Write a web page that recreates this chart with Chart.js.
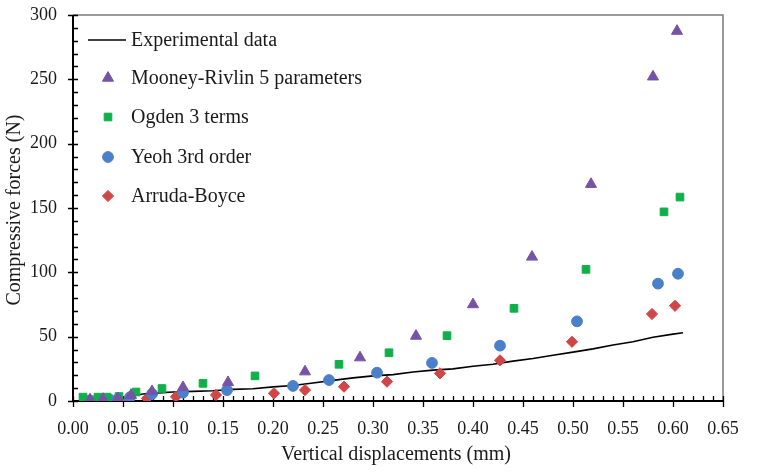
<!DOCTYPE html>
<html>
<head>
<meta charset="utf-8">
<script src="https://cdn.jsdelivr.net/npm/chart.js@4/dist/chart.umd.min.js"></script>
<style>
html,body{margin:0;padding:0;background:#fff;}
#wrap{width:757px;height:476px;position:relative;}
</style>
</head>
<body>
<div id="wrap"><canvas id="c" width="757" height="476"></canvas></div>
<script>
// ---- Data ----
const expX = [0.010,0.020,0.030,0.040,0.050,0.060,0.070,0.080,0.090,0.100,0.120,0.140,0.160,0.180,0.200,0.220,0.240,0.260,0.280,0.300,0.320,0.340,0.360,0.380,0.400,0.420,0.440,0.460,0.480,0.500,0.520,0.540,0.560,0.580,0.600,0.610];
const expY = [0,0.5,1,1.5,2.5,4,5.5,6,6.5,7,7.5,8,9,9.5,11,12,14,16,18,19.5,20.5,22.5,24,25,27,28.5,31,33,35.5,38,40.5,43.5,46,49.5,52,53];

const mooneyX = [0.017,0.030,0.045,0.058,0.079,0.110,0.155,0.232,0.287,0.343,0.400,0.459,0.518,0.580,0.604];
const mooneyY = [1,1.5,2,4.5,7.5,10.6,14.5,22.8,33.7,50.5,75,112,168.5,252,287.5];

const ogdenX = [0.010,0.025,0.034,0.046,0.063,0.089,0.130,0.182,0.266,0.316,0.374,0.441,0.513,0.591,0.607];
const ogdenY = [3,3,3,3.5,7,9.7,13.7,19.5,28.5,37.5,50.8,72,102.3,147,158.5];

const yeohX = [0.017,0.027,0.037,0.044,0.057,0.079,0.110,0.154,0.220,0.256,0.304,0.359,0.427,0.504,0.585,0.605];
const yeohY = [0.5,0.7,1,1,3,5.5,6.5,8.5,11.7,16.3,22,29.6,43,61.9,91.2,98.9];

const arrudaX = [0.022,0.027,0.032,0.044,0.055,0.074,0.103,0.143,0.201,0.232,0.271,0.314,0.367,0.427,0.499,0.579,0.602];
const arrudaY = [0.5,0.7,1,1.2,0.5,2,3.3,4.7,6,8.5,11.1,15,21.5,31.6,46,67.6,74];

const seriesLabels = ["Experimental data","Mooney-Rivlin 5 parameters","Ogden 3 terms","Yeoh 3rd order","Arruda-Boyce"];
const xAxisTitle = "Vertical displacements (mm)";
const yAxisTitle = "Compressive forces (N)";
const xMin = 0, xMax = 0.65, xStep = 0.05, xMinorStep = 0.01;
const yMin = 0, yMax = 300, yStep = 50, yMinorStep = 10;

// ---- build ----
const pts = (xs, ys) => xs.map((x, i) => ({x: x, y: ys[i]}));
const FONT = "'Liberation Serif','DejaVu Serif',serif";
const TXT = '#1a1a1a';

const datasets = [
  {label: seriesLabels[0], type:'line', data: pts(expX, expY), borderColor:'#000', borderWidth:1.6, pointRadius:0, showLine:true, fill:false, tension:0, order:5},
  {label: seriesLabels[1], data: pts(mooneyX, mooneyY), pointStyle:'triangle', pointRadius:6.4, backgroundColor:'#7653a6', borderColor:'#7653a6', borderWidth:1},
  {label: seriesLabels[2], data: pts(ogdenX, ogdenY), pointStyle:'rect', pointRadius:5.4, backgroundColor:'#0fb04a', borderColor:'#0fb04a', borderWidth:1},
  {label: seriesLabels[3], data: pts(yeohX, yeohY), pointStyle:'circle', pointRadius:5.4, backgroundColor:'#4a7fc9', borderColor:'#4a7fc9', borderWidth:1},
  {label: seriesLabels[4], data: pts(arrudaX, arrudaY), pointStyle:'rectRot', pointRadius:5.6, backgroundColor:'#d04545', borderColor:'#d04545', borderWidth:1}
];

const decor = {
  id:'decor',
  beforeDatasetsDraw(chart){
    const {ctx, chartArea:a, scales:{x, y}} = chart;
    ctx.save();
    // frame
    ctx.lineWidth = 1.5;
    ctx.strokeStyle = '#7a7a7a';
    ctx.beginPath();
    ctx.moveTo(a.left, a.top); ctx.lineTo(a.right, a.top); ctx.lineTo(a.right, a.bottom);
    ctx.stroke();
    ctx.strokeStyle = '#000';
    ctx.lineWidth = 2;
    ctx.beginPath();
    ctx.moveTo(a.left, a.top); ctx.lineTo(a.left, a.bottom); ctx.lineTo(a.right, a.bottom);
    ctx.stroke();
    // ticks
    ctx.lineWidth = 1.3;
    ctx.beginPath();
    const ny = Math.round((yMax - yMin) / yMinorStep);
    for (let i = 0; i <= ny; i++) {
      const v = yMin + i * yMinorStep;
      const p = Math.round(y.getPixelForValue(v)) + 0.5;
      const major = (i % Math.round(yStep / yMinorStep)) === 0;
      ctx.moveTo(a.left - (major ? 5 : 0), p);
      ctx.lineTo(a.left + 5, p);
    }
    const nx = Math.round((xMax - xMin) / xMinorStep);
    for (let i = 0; i <= nx; i++) {
      const v = xMin + i * xMinorStep;
      const p = Math.round(x.getPixelForValue(v)) + 0.5;
      const major = (i % Math.round(xStep / xMinorStep)) === 0;
      ctx.moveTo(p, a.bottom + (major ? 6 : 0));
      ctx.lineTo(p, a.bottom - 5);
    }
    ctx.stroke();
    ctx.restore();
  },
  afterDraw(chart){
    const {ctx, chartArea:a} = chart;
    ctx.save();
    ctx.fillStyle = TXT;
    ctx.font = "20px " + FONT;
    // axis titles
    ctx.textAlign = 'center';
    ctx.textBaseline = 'middle';
    ctx.fillText(xAxisTitle, (a.left + a.right) / 2 - 2, 455);
    ctx.save();
    ctx.translate(15, 210);
    ctx.rotate(-Math.PI / 2);
    ctx.fillText(yAxisTitle, 0, 0);
    ctx.restore();
    // legend
    const legY = [40, 78, 117, 157, 196];
    const symX = 108, textX = 131;
    chart.data.datasets.forEach((ds, i) => {
      const yy = legY[i];
      if (ds.showLine && !ds.pointRadius) {
        ctx.strokeStyle = ds.borderColor; ctx.lineWidth = 1.6;
        ctx.beginPath(); ctx.moveTo(88, yy); ctx.lineTo(126, yy); ctx.stroke();
      } else {
        ctx.fillStyle = ds.backgroundColor; ctx.strokeStyle = ds.borderColor; ctx.lineWidth = 1;
        Chart.helpers.drawPoint(ctx, {pointStyle: ds.pointStyle, radius: ds.pointRadius, rotation: 0, borderWidth: 1}, symX, yy);
      }
      ctx.fillStyle = TXT;
      ctx.textAlign = 'left';
      ctx.textBaseline = 'middle';
      ctx.fillText(ds.label, textX, yy + 1);
    });
    ctx.restore();
  }
};

new Chart(document.getElementById('c'), {
  type: 'scatter',
  data: {datasets},
  options: {
    responsive: false,
    animation: false,
    devicePixelRatio: 1,
    layout: {padding: {top: 15, right: 34, left: 0, bottom: 0}},
    plugins: {legend: {display: false}, tooltip: {enabled: false}},
    scales: {
      x: {
        type: 'linear', min: xMin, max: xMax,
        grid: {display: false, drawTicks: false},
        border: {display: false},
        ticks: {stepSize: xStep, padding: 17, color: TXT, font: {family: FONT, size: 18}, callback: v => v.toFixed(2), maxRotation: 0, autoSkip: false},
        afterFit(s){ s.height = 75; s.paddingLeft = 0; s.paddingRight = 0; }
      },
      y: {
        type: 'linear', min: yMin, max: yMax,
        grid: {display: false, drawTicks: false},
        border: {display: false},
        ticks: {stepSize: yStep, padding: 16, color: TXT, font: {family: FONT, size: 18}},
        afterFit(s){ s.width = 73; s.paddingTop = 0; s.paddingBottom = 0; }
      }
    }
  },
  plugins: [decor]
});
</script>
</body>
</html>
